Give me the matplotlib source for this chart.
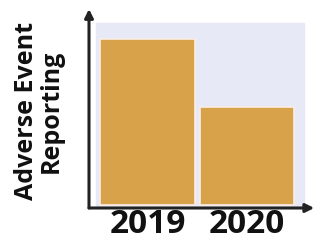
import matplotlib.pyplot as plt
from matplotlib.patches import Rectangle

# data: relative adverse event reporting per year
years = ['2019', '2020']
reporting = [1.0, 0.59]

plt.rcParams['font.family'] = ['Open Sans', 'DejaVu Sans']

fig = plt.figure(figsize=(3.17, 2.46), dpi=100)
ax = fig.add_axes([89 / 317, 1 - 208 / 246, 223 / 317, 197 / 246])

# axes limits chosen so the bars land where the reference has them
ax.set_xlim(-0.59, 1.66)
ax.set_ylim(-0.02, 1.17)

# light lavender panel behind the bars
ax.add_patch(Rectangle((-0.52, -0.02), 2.1, 1.12, color='#e8e9f6', zorder=0))

x = list(range(len(years)))
ax.bar(x, reporting, width=0.95, color='#d8a24a', edgecolor='#fbeee6',
       linewidth=1.2, zorder=2)

for s in ax.spines.values():
    s.set_visible(False)
ax.set_yticks([])
ax.set_xticks(x)
ax.set_xticklabels(years, fontsize=24, fontweight='bold', color='#111111')
ax.tick_params(axis='x', length=0, pad=0)

# axis arrows
ax.annotate('', xy=(0, 1.01), xytext=(0, 0), xycoords='axes fraction',
            arrowprops=dict(arrowstyle='-|>,head_length=0.5,head_width=0.25',
                            color='#222222', lw=2.2, shrinkA=0, shrinkB=0))
ax.annotate('', xy=(1.01, 0), xytext=(0, 0), xycoords='axes fraction',
            arrowprops=dict(arrowstyle='-|>,head_length=0.5,head_width=0.25',
                            color='#222222', lw=2.2, shrinkA=0, shrinkB=0))

fig.text(39 / 317, 1 - 111 / 246, 'Adverse Event\nReporting', rotation=90,
         ha='center', va='center', multialignment='center',
         fontsize=18, fontweight='bold', color='#111111', linespacing=1.0)

fig.savefig('out.png', dpi=100)
